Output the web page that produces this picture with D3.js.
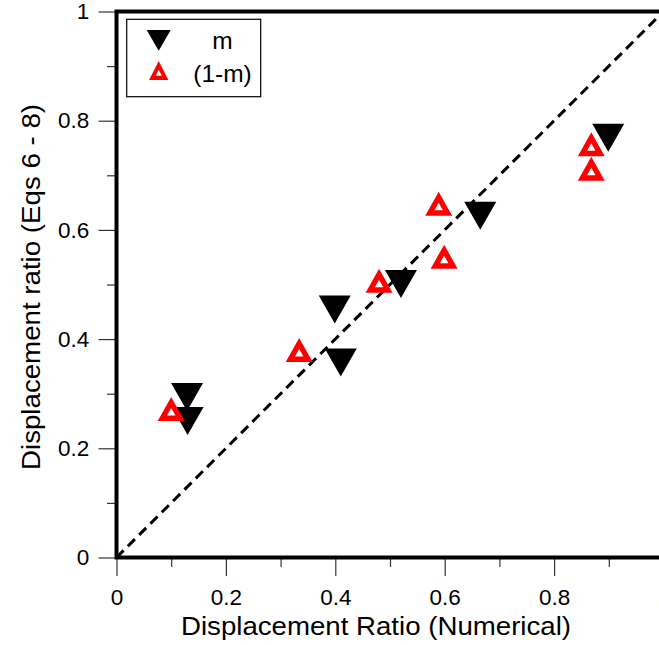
<!DOCTYPE html>
<html>
<head>
<meta charset="utf-8">
<script src="https://cdn.jsdelivr.net/npm/d3@7"></script>
<style>
  body { margin: 0; background: #fff; }
  svg { display: block; font-family: "Liberation Sans", Arial, sans-serif; }
</style>
</head>
<body>
<div id="chart"></div>
<script>
// data
const mX = [0.129, 0.130, 0.399, 0.410, 0.520, 0.665, 0.899];
const mY = [0.294, 0.250, 0.454, 0.357, 0.501, 0.626, 0.769];
const omX = [0.100, 0.334, 0.480, 0.589, 0.599, 0.868, 0.868];
const omY = [0.272, 0.380, 0.507, 0.648, 0.551, 0.757, 0.712];
const majorTicks = [0, 0.2, 0.4, 0.6, 0.8, 1];
const minorTicks = [0.1, 0.3, 0.5, 0.7, 0.9];
const seriesNames = ["m", "(1-m)"];

const W = 659, H = 645;
const margin = {top: 11.5, left: 116.5},
  width = 547,
  height = 546;

const svg = d3.select("#chart")
  .append("svg")
  .attr("width", W)
  .attr("height", H);

const g = svg.append("g")
  .attr("transform", `translate(${margin.left},${margin.top})`);

const x = d3.scaleLinear().domain([0, 1]).range([0, width]);
const y = d3.scaleLinear().domain([0, 1]).range([height, 0]);

// ticks
const xMajor = g.append("g")
  .attr("transform", `translate(0,${height})`)
  .call(d3.axisBottom(x).tickValues(majorTicks).tickSize(18.5).tickPadding(13.5).tickFormat(d => d));
const xMinor = g.append("g")
  .attr("transform", `translate(0,${height})`)
  .call(d3.axisBottom(x).tickValues(minorTicks).tickSize(9.5).tickFormat(""));
const yMajor = g.append("g")
  .call(d3.axisLeft(y).tickValues(majorTicks).tickSize(18).tickPadding(9.2).tickFormat(d => d));
const yMinor = g.append("g")
  .call(d3.axisLeft(y).tickValues(minorTicks).tickSize(9.5).tickFormat(""));

[xMajor, xMinor, yMajor, yMinor].forEach(a => {
  a.attr("font-size", 22.5).attr("font-family", "Liberation Sans, Arial, sans-serif");
  a.select(".domain").remove();
  a.selectAll("line").attr("stroke", "#333").attr("stroke-width", 1.2);
  a.selectAll("text").attr("fill", "#000");
});

// diagonal 1:1 line
g.append("line")
  .attr("x1", x(0)).attr("y1", y(0))
  .attr("x2", x(1)).attr("y2", y(1))
  .attr("stroke", "#000")
  .attr("stroke-width", 3)
  .attr("stroke-dasharray", "10,6");

// triangle helpers (bounding-box centred)
function downTri(w, h) {
  return `M${-w/2},${-h/2}L${w/2},${-h/2}L0,${h/2}Z`;
}
function upTri(w, h) {
  return `M0,${-h/2}L${w/2},${h/2}L${-w/2},${h/2}Z`;
}
function upTriInner(w, h, hi) {
  // inner hole shares the centroid of the outer triangle
  const cy = h/2 - h/3;
  const wi = hi * w / h;
  return `M0,${cy - 2*hi/3}L${wi/2},${cy + hi/3}L${-wi/2},${cy + hi/3}Z`;
}

const mData = mX.map((d, i) => ({x: d, y: mY[i]}));
const omData = omX.map((d, i) => ({x: d, y: omY[i]}));

g.selectAll(".m")
  .data(mData)
  .join("path")
  .attr("class", "m")
  .attr("transform", d => `translate(${x(d.x)},${y(d.y)})`)
  .attr("d", downTri(32, 28))
  .attr("fill", "#000");

const om = g.selectAll(".om")
  .data(omData)
  .join("g")
  .attr("class", "om")
  .attr("transform", d => `translate(${x(d.x)},${y(d.y)})`);
om.append("path").attr("d", upTri(27, 24)).attr("fill", "#ff0000");
om.append("path").attr("d", upTriInner(27, 24, 7.5)).attr("fill", "#fff");

// frame
g.append("rect")
  .attr("x", 0).attr("y", 0)
  .attr("width", width).attr("height", height)
  .attr("fill", "none")
  .attr("stroke", "#000")
  .attr("stroke-width", 4);

// legend
const leg = svg.append("g");
leg.append("rect")
  .attr("x", 126.7).attr("y", 19.3)
  .attr("width", 134).attr("height", 77.4)
  .attr("fill", "#fff")
  .attr("stroke", "#000")
  .attr("stroke-width", 1.2);
leg.append("path")
  .attr("transform", "translate(158.7,40.3)")
  .attr("d", downTri(24, 20.7))
  .attr("fill", "#000");
leg.append("path")
  .attr("transform", "translate(158.7,70.5)")
  .attr("d", upTri(19.3, 19))
  .attr("fill", "#ff0000");
leg.append("path")
  .attr("transform", "translate(158.7,70.5)")
  .attr("d", upTriInner(19.3, 19, 6))
  .attr("fill", "#fff");
leg.selectAll(".lt")
  .data(seriesNames)
  .join("text")
  .attr("class", "lt")
  .attr("x", 222.5)
  .attr("y", (d, i) => i === 0 ? 49 : 81.5)
  .attr("text-anchor", "middle")
  .attr("font-size", 24.5)
  .text(d => d);

// axis titles
svg.append("text")
  .attr("x", 376)
  .attr("y", 635)
  .attr("text-anchor", "middle")
  .attr("font-size", 26.5)
  .attr("textLength", 390)
  .attr("lengthAdjust", "spacingAndGlyphs")
  .text("Displacement Ratio (Numerical)");

svg.append("text")
  .attr("transform", "translate(40,287) rotate(-90)")
  .attr("text-anchor", "middle")
  .attr("font-size", 26.5)
  .attr("textLength", 366)
  .attr("lengthAdjust", "spacingAndGlyphs")
  .text("Displacement ratio (Eqs 6 - 8)");
</script>
</body>
</html>
